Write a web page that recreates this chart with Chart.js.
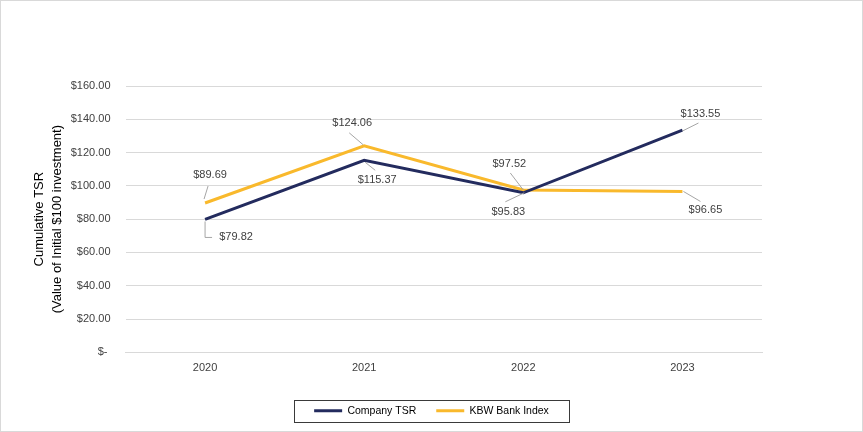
<!DOCTYPE html>
<html>
<head>
<meta charset="utf-8">
<script src="https://cdn.jsdelivr.net/npm/chart.js@4.4.0/dist/chart.umd.min.js"></script>
<style>
html,body{margin:0;padding:0;background:#fff;}
#wrap{width:863px;height:432px;position:relative;}
</style>
</head>
<body>
<div id="wrap"><canvas id="c" width="863" height="432"></canvas></div>
<script>
const categories = ['2020', '2021', '2022', '2023'];
const companyTSR = [79.82, 115.37, 95.83, 133.55];
const kbwBankIndex = [89.69, 124.06, 97.52, 96.65];
const seriesNames = ['Company TSR', 'KBW Bank Index'];
const yTickValues = [0, 20, 40, 60, 80, 100, 120, 140, 160];

// label placement (text center offset, leader path offsets) relative to each point
const labelLayout = [
  [ // Company TSR
    {t:[31,18], path:[[0,2],[0,18],[7,18]]},
    {t:[13,20], path:[[1,2],[11,10]]},
    {t:[-15,19], path:[[1,0],[-18,9]]},
    {t:[18,-16], path:[[0,1],[16,-7]]}
  ],
  [ // KBW
    {t:[5,-28], path:[[-1,-4],[3,-17]]},
    {t:[-12,-23], path:[[-1,-1],[-15,-13]]},
    {t:[-14,-26], path:[[0,0],[-13,-17]]},
    {t:[23,19], path:[[1,0],[18,10]]}
  ]
];

const FONT = "'Liberation Sans', Arial, sans-serif";

const fmt = v => v === 0 ? '$- ' : '$' + v.toFixed(2);

const labelPlugin = {
  id: 'labels',
  afterDatasetsDraw(chart) {
    const ctx = chart.ctx;
    ctx.save();
    chart.data.datasets.forEach((ds, di) => {
      const meta = chart.getDatasetMeta(di);
      meta.data.forEach((pt, i) => {
        const L = labelLayout[di][i];
        ctx.strokeStyle = '#a6a6a6';
        ctx.lineWidth = 1;
        ctx.beginPath();
        L.path.forEach((p, k) => {
          const x = pt.x + p[0], y = pt.y + p[1];
          if (k === 0) ctx.moveTo(x, y); else ctx.lineTo(x, y);
        });
        ctx.stroke();
        ctx.fillStyle = '#404040';
        ctx.font = '11px ' + FONT;
        ctx.textAlign = 'center';
        ctx.textBaseline = 'middle';
        ctx.fillText(fmt(ds.data[i]), pt.x + L.t[0], pt.y + L.t[1]);
      });
    });
    ctx.restore();
  },
  afterDraw(chart) {
    const ctx = chart.ctx;
    const lg = chart.legend;
    if (lg && lg.legendHitBoxes && lg.legendHitBoxes.length) {
      const hb = lg.legendHitBoxes;
      const l = Math.min(...hb.map(h => h.left)) - 20;
      const r = Math.max(...hb.map(h => h.left + h.width)) + 20;
      const cy = hb[0].top + hb[0].height / 2;
      ctx.save();
      ctx.strokeStyle = '#3a3a3a';
      ctx.lineWidth = 1;
      ctx.strokeRect(Math.round(l) + 0.5, Math.round(cy - 11) + 0.5, Math.round(r - l), 22);
      ctx.restore();
    }
    ctx.save();
    ctx.strokeStyle = '#d9d9d9';
    ctx.lineWidth = 1;
    ctx.strokeRect(0.5, 0.5, chart.width - 1, chart.height - 1);
    ctx.restore();
  },
  beforeDraw(chart) {
    const ctx = chart.ctx;
    ctx.save();
    ctx.fillStyle = '#fff';
    ctx.fillRect(0, 0, chart.width, chart.height);
    ctx.restore();
  }
};

new Chart(document.getElementById('c'), {
  type: 'line',
  data: {
    labels: categories,
    datasets: [
      {label: seriesNames[0], data: companyTSR, borderColor: '#232b5e', backgroundColor: '#232b5e', borderWidth: 3, pointRadius: 0, tension: 0},
      {label: seriesNames[1], data: kbwBankIndex, borderColor: '#f9b92c', backgroundColor: '#f9b92c', borderWidth: 3, pointRadius: 0, tension: 0}
    ]
  },
  options: {
    responsive: false,
    animation: false,
    layout: {padding: {left: 0, right: 0, top: 86, bottom: 6}},
    plugins: {
      legend: {
        position: 'bottom',
        labels: {
          boxWidth: 28, boxHeight: 3, padding: 20,
          color: '#000', font: {family: FONT, size: 10.5},
          generateLabels: chart => Chart.defaults.plugins.legend.labels.generateLabels(chart).map(it => Object.assign(it, {lineWidth: 0}))
        }
      },
      tooltip: {enabled: false}
    },
    scales: {
      x: {
        offset: true,
        afterFit: s => { s.height += 2; },
        grid: {display: false, drawTicks: false},
        border: {display: true, color: '#d9d9d9'},
        ticks: {color: '#404040', font: {family: FONT, size: 11}, padding: 9}
      },
      y: {
        min: 0, max: 160,
        afterBuildTicks: s => { s.ticks = yTickValues.map(v => ({value: v})); },
        afterFit: s => { s.width = 125.5; },
        grid: {color: '#d9d9d9', drawTicks: false},
        border: {display: false},
        ticks: {color: '#404040', font: {family: FONT, size: 11}, padding: 15, callback: v => fmt(v)},
        title: {
          display: true,
          text: ['Cumulative TSR', '(Value of Initial $100 investment)'],
          color: '#000',
          font: {family: FONT, size: 13, lineHeight: 1.4},
          padding: {top: 30, bottom: 0}
        }
      },
      yRight: {
        position: 'right',
        afterFit: s => { s.width = 101; },
        grid: {display: false, drawTicks: false},
        border: {display: false},
        ticks: {display: false}
      }
    }
  },
  plugins: [labelPlugin]
});
</script>
</body>
</html>
